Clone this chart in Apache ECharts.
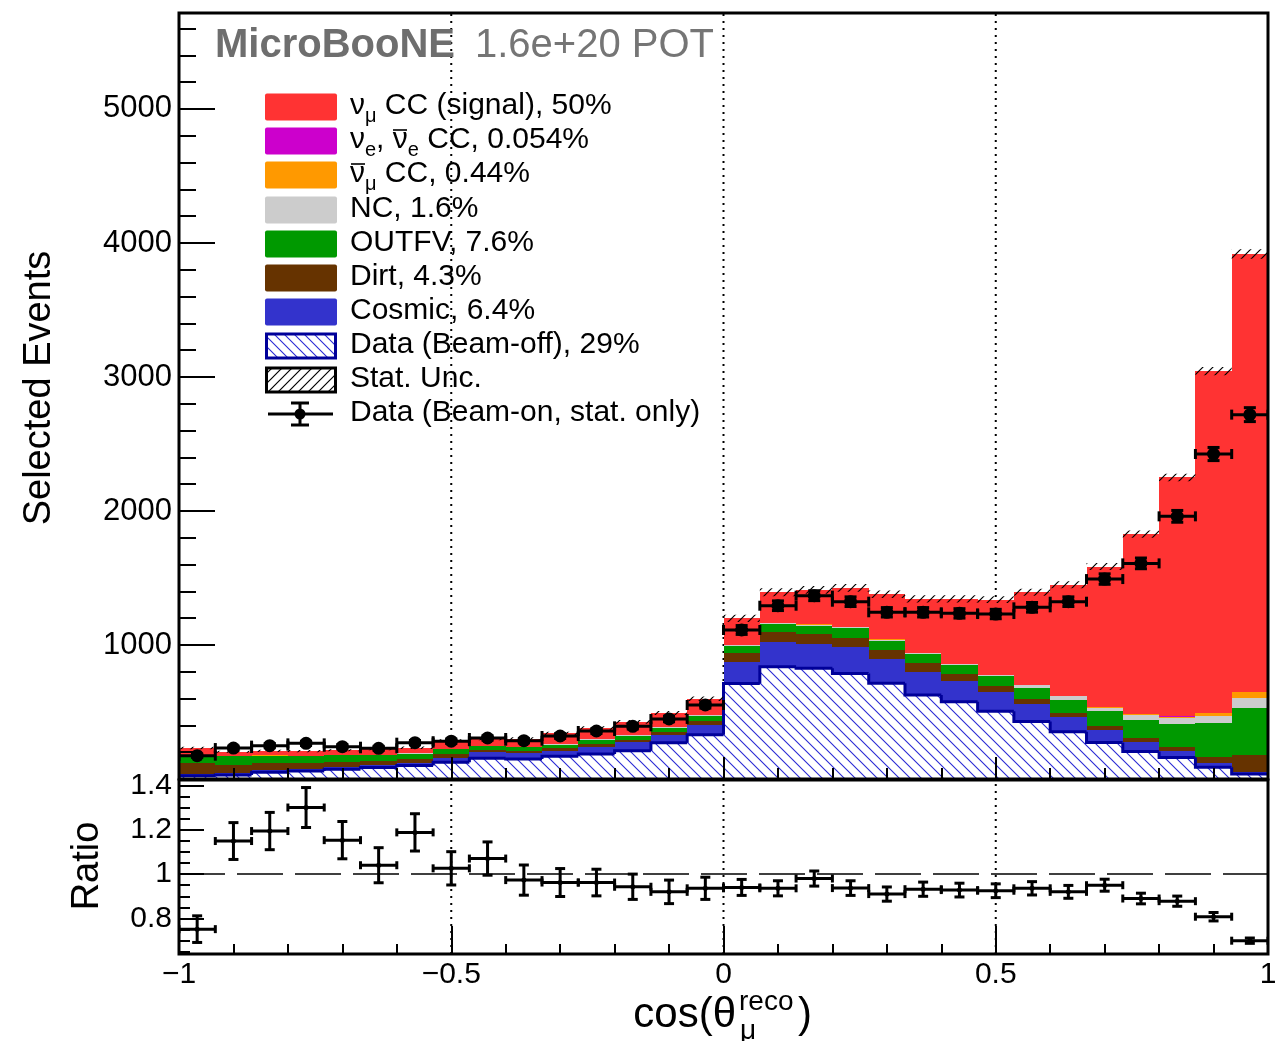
<!DOCTYPE html>
<html><head><meta charset="utf-8">
<script src="https://cdn.jsdelivr.net/npm/echarts@6/dist/echarts.min.js"></script>
<style>html,body{margin:0;padding:0;background:#fff}#c{width:1281px;height:1041px}</style>
</head><body><div id="c"></div>
<script>
// ---------------- data ----------------
const binEdges = [-1, -0.9333, -0.8667, -0.8, -0.7333, -0.6667, -0.6, -0.5333, -0.4667, -0.4, -0.3333,
  -0.2667, -0.2, -0.1333, -0.0667, 0, 0.0667, 0.1333, 0.2, 0.2667, 0.3333, 0.4, 0.4667, 0.5333,
  0.6, 0.6667, 0.7333, 0.8, 0.8667, 0.9333, 1];
const beamOff = [25,30,50,60,72,85,100,125,155,150,169,186,211,271,331, 712,838,826,788,714,627,577,505,430,353,273,206,161,87,37];
const cosmic  = [15,15,17,15,20,19,19,35,44,44,42,55,62,60,74, 158,182,181,195,181,174,157,142,129,112,95,72,45,32,18];
const dirt    = [80,62,50,44,37,33,30,28,20,17,18,20,18,22,30, 70,74,75,69,68,62,49,44,38,27,30,28,30,47,124];
const outfv   = [45,61,55,50,48,41,41,34,25,25,25,30,32,27,33, 53,63,62,72,69,70,68,75,82,100,107,137,177,249,351];
const nc      = [4,3,3,3,3,3,3,4,4,4,4,4,5,5,6, 7,9,8,8,8,7,7,9,21,25,25,35,40,53,72];
const numubar = [0.5,0.5,0.5,0.5,0.5,0.5,0.5,0.6,0.6,0.6,0.7,0.7,0.8,0.9,1, 1,1,1,1,1,1,1,2,3,4,10,7,13,25,45];
const nue     = [0.1,0.1,0.1,0.1,0.1,0.1,0.1,0.1,0.1,0.1,0.2,0.2,0.2,0.2,0.3, 0.4,0.5,0.5,0.5,0.5,0.5,0.6,0.6,0.7,0.8,1,1,1.5,2,3];
const signal  = [62,32,34,35,34,41,39,59,52,60,82,85,97,107,124, 198,226,257,292,337,402,484,561,690,827,1044,1341,1783,2549,3268];
const statErr = [9,8,8,8,8,8,9,10,11,11,12,13,14,15,17, 27,29,29,29,28,27,27,26,26,26,26,27,28,31,35];
const dataOn  = [174,231,249,266,241,229,271,282,306,286,321,358,393,448,552, 1112,1293,1368,1323,1244,1244,1236,1231,1281,1323,1492,1609,1960,2425,2719];
const dataErr = [13,15,16,16,16,15,16,17,17,17,18,19,20,21,23, 33,36,37,36,35,35,35,35,36,36,39,40,44,49,52];
const ratio    = [0.752,1.149,1.194,1.30,1.153,1.04,1.188,1.026,1.07,0.973,0.962,0.962,0.943,0.92,0.936,
                  0.94,0.936,0.98,0.937,0.91,0.932,0.928,0.925,0.936,0.92,0.95,0.89,0.878,0.808,0.70];
const ratioErr = [0.06,0.083,0.084,0.09,0.084,0.079,0.084,0.075,0.075,0.068,0.063,0.06,0.057,0.053,0.05,
                  0.036,0.034,0.034,0.033,0.032,0.032,0.031,0.031,0.030,0.029,0.027,0.024,0.023,0.019,0.012];
const ratioMajorTicks = [0.8, 1, 1.2, 1.4];
const ratioMinorTicks = [0.65,0.7,0.75,0.8,0.85,0.9,0.95,1,1.05,1.1,1.15,1.2,1.25,1.3,1.35,1.4];
const xDividers = [-0.5, 0, 0.5];
const xMin = -1, xMax = 1, yMax = 5716, rMin = 0.64, rMax = 1.424;
const legendLabels = [
  '{m|ν}{s|μ}{m| CC (signal), 50%}',
  '{m|ν}{s|e}{m|, ν}{s|e}{m| CC, 0.054%}',
  '{m|ν}{s|μ}{m| CC, 0.44%}',
  '{m|NC, 1.6%}',
  '{m|OUTFV, 7.6%}',
  '{m|Dirt, 4.3%}',
  '{m|Cosmic, 6.4%}',
  '{m|Data (Beam-off), 29%}',
  '{m|Stat. Unc.}',
  '{m|Data (Beam-on, stat. only)}'
];
// ---------------- style ----------------
const FONT = "'Liberation Sans', Arial, Helvetica, sans-serif";
const layers = [
  {vals: beamOff, color: null},
  {vals: cosmic, color: '#3333cc'},
  {vals: dirt, color: '#663300'},
  {vals: outfv, color: '#009900'},
  {vals: nc, color: '#cccccc'},
  {vals: numubar, color: '#ff9900'},
  {vals: nue, color: '#cc00cc'},
  {vals: signal, color: '#ff3333'}
];
function hatch(color, dir, s, lw, bg) {
  const c = document.createElement('canvas'); c.width = s; c.height = s;
  const g = c.getContext('2d');
  if (bg) { g.fillStyle = bg; g.fillRect(0, 0, s, s); }
  g.strokeStyle = color; g.lineWidth = lw; g.beginPath();
  if (dir === '\\') {
    g.moveTo(-1, -1); g.lineTo(s + 1, s + 1);
    g.moveTo(-1, s - 1); g.lineTo(1, s + 1);
    g.moveTo(s - 1, -1); g.lineTo(s + 1, 1);
  } else {
    g.moveTo(-1, s + 1); g.lineTo(s + 1, -1);
    g.moveTo(-1, 1); g.lineTo(1, -1);
    g.moveTo(s - 1, s + 1); g.lineTo(s + 1, s - 1);
  }
  g.stroke();
  return {image: c, repeat: 'repeat'};
}
const beamOffFill = hatch('#2a2ad4', '\\', 11, 1.1, '#ffffff');
const statFill = hatch('#000000', '/', 10, 1.2, null);
const beamOffFillLeg = hatch('#2a2ad4', '\\', 10, 1.1, '#ffffff');
const statFillLeg = hatch('#000000', '/', 10, 1.2, '#ffffff');

// ---------------- build series data ----------------
const nBins = signal.length;
const cum = new Array(nBins).fill(0);
const series = [];
function divider(xi, yi, lo, hi) {
  return {
    type: 'custom', xAxisIndex: xi, yAxisIndex: yi, z: 1, silent: true,
    data: xDividers.map(x => [x]),
    renderItem: (p, api) => {
      const a = api.coord([api.value(0), lo]), b = api.coord([api.value(0), hi]);
      return {type: 'line', shape: {x1: a[0], y1: a[1], x2: b[0], y2: b[1]},
              style: {stroke: '#000', lineWidth: 2, lineDash: [2, 5]}};
    }
  };
}
series.push(divider(0, 0, 0, yMax));
series.push(divider(1, 2, rMin, rMax));
layers.forEach((L, li) => {
  const d = [];
  for (let i = 0; i < nBins; i++) {
    d.push([binEdges[i], binEdges[i + 1], cum[i], cum[i] + L.vals[i]]);
    cum[i] += L.vals[i];
  }
  const fill = L.color || beamOffFill;
  series.push({
    type: 'custom', xAxisIndex: 0, yAxisIndex: 0, z: 2, silent: true, clip: true,
    data: d,
    renderItem: (p, api) => {
      const a = api.coord([api.value(0), api.value(3)]);
      const b = api.coord([api.value(1), api.value(2)]);
      const x0 = Math.round(a[0]), x1 = Math.round(b[0]);
      const y0 = Math.round(a[1]), y1 = Math.round(b[1]);
      if (y1 - y0 <= 0) return null;
      return {type: 'rect', shape: {x: x0, y: y0, width: x1 - x0, height: y1 - y0},
              style: {fill: fill}};
    }
  });
});
// beam-off outline (dark blue step line)
series.push({
  type: 'custom', xAxisIndex: 0, yAxisIndex: 0, z: 3, silent: true, clip: true,
  data: beamOff.map((v, i) => [binEdges[i], binEdges[i + 1], v, i > 0 ? beamOff[i - 1] : 0]),
  renderItem: (p, api) => {
    const a = api.coord([api.value(0), api.value(3)]);
    const b = api.coord([api.value(0), api.value(2)]);
    const c = api.coord([api.value(1), api.value(2)]);
    return {type: 'polyline', shape: {points: [a, b, c]},
            style: {stroke: '#000099', lineWidth: 3, fill: null}};
  }
});
// stat. uncertainty band
series.push({
  type: 'custom', xAxisIndex: 0, yAxisIndex: 0, z: 4, silent: true, clip: true,
  data: cum.map((t, i) => [binEdges[i], binEdges[i + 1], t - statErr[i], t + statErr[i]]),
  renderItem: (p, api) => {
    const a = api.coord([api.value(0), api.value(3)]);
    const b = api.coord([api.value(1), api.value(2)]);
    return {type: 'rect', shape: {x: a[0], y: a[1], width: b[0] - a[0], height: b[1] - a[1]},
            style: {fill: statFill}};
  }
});
function errItem(r, lw, capH, capV) {
  return (p, api) => {
    const lo = api.value(0), hi = api.value(1), y = api.value(2), e = api.value(3);
    const c = (lo + hi) / 2;
    const L = api.coord([lo, y]), R = api.coord([hi, y]), C = api.coord([c, y]);
    const T = api.coord([c, y + e]), B = api.coord([c, y - e]);
    const st = {stroke: '#000', lineWidth: lw};
    return {type: 'group', children: [
      {type: 'line', shape: {x1: L[0], y1: L[1], x2: R[0], y2: R[1]}, style: st},
      {type: 'line', shape: {x1: L[0], y1: L[1] - capH, x2: L[0], y2: L[1] + capH}, style: st},
      {type: 'line', shape: {x1: R[0], y1: R[1] - capH, x2: R[0], y2: R[1] + capH}, style: st},
      {type: 'line', shape: {x1: T[0], y1: T[1], x2: B[0], y2: B[1]}, style: st},
      {type: 'line', shape: {x1: T[0] - capV, y1: T[1], x2: T[0] + capV, y2: T[1]}, style: st},
      {type: 'line', shape: {x1: B[0] - capV, y1: B[1], x2: B[0] + capV, y2: B[1]}, style: st},
      {type: 'circle', shape: {cx: C[0], cy: C[1], r: r}, style: {fill: '#000'}}
    ]};
  };
}
series.push({
  type: 'custom', xAxisIndex: 0, yAxisIndex: 0, z: 6, silent: true, clip: true,
  data: dataOn.map((v, i) => [binEdges[i], binEdges[i + 1], v, dataErr[i]]),
  renderItem: errItem(6.5, 3, 5, 6)
});
// ratio panel: dashed unity line and points
series.push({
  type: 'custom', xAxisIndex: 1, yAxisIndex: 2, z: 2, silent: true,
  data: [[1]],
  renderItem: (p, api) => {
    const a = api.coord([xMin, api.value(0)]), b = api.coord([xMax, api.value(0)]);
    return {type: 'line', shape: {x1: a[0], y1: a[1], x2: b[0], y2: b[1]},
            style: {stroke: '#000', lineWidth: 1.5, lineDash: [46, 12]}};
  }
});
series.push({
  type: 'custom', xAxisIndex: 1, yAxisIndex: 2, z: 6, silent: true, clip: true,
  data: ratio.map((v, i) => [binEdges[i], binEdges[i + 1], v, ratioErr[i]]),
  renderItem: errItem(2.5, 3, 4, 5)
});

// ---------------- graphics (frames, texts, legend) ----------------
const G = [];
const rowY = [107, 141, 175, 210, 244, 278, 312, 346, 380, 414];
layers.slice().reverse().forEach((L, k) => {
  if (!L.color) return;
  G.push({type: 'rect', shape: {x: 265, y: rowY[k] - 13.5, width: 72, height: 27, r: 2},
          style: {fill: L.color}, z: 50});
});
G.push({type: 'rect', shape: {x: 266.5, y: rowY[7] - 12, width: 69, height: 24},
        style: {fill: beamOffFillLeg, stroke: '#000099', lineWidth: 3}, z: 50});
G.push({type: 'rect', shape: {x: 266.5, y: rowY[8] - 12, width: 69, height: 24},
        style: {fill: statFillLeg, stroke: '#000', lineWidth: 3}, z: 50});
const ly = rowY[9];
[[268, ly, 333, ly], [300, ly - 11, 300, ly + 11], [291, ly - 11, 309, ly - 11], [291, ly + 11, 309, ly + 11]]
  .forEach(s => G.push({type: 'line', shape: {x1: s[0], y1: s[1], x2: s[2], y2: s[3]},
                        style: {stroke: '#000', lineWidth: 3}, z: 50}));
G.push({type: 'circle', shape: {cx: 300, cy: ly, r: 5.5}, style: {fill: '#000'}, z: 50});
legendLabels.forEach((t, k) => {
  G.push({type: 'text', x: 350, y: rowY[k] - 1, z: 50,
    style: {text: t, align: 'left', verticalAlign: 'middle', fill: '#000',
      rich: {m: {fontSize: 30, lineHeight: 40, fontFamily: FONT, fill: '#000'},
             s: {fontSize: 20, lineHeight: 20, verticalAlign: 'bottom', fontFamily: FONT, fill: '#000'}}}});
});
// overlines for anti-neutrinos
G.push({type: 'line', shape: {x1: 393, y1: rowY[1] - 11, x2: 407, y2: rowY[1] - 11}, style: {stroke: '#000', lineWidth: 1.6}, z: 50});
G.push({type: 'line', shape: {x1: 351, y1: rowY[2] - 11, x2: 365, y2: rowY[2] - 11}, style: {stroke: '#000', lineWidth: 1.6}, z: 50});
// title
G.push({type: 'text', x: 215, y: 46, z: 50, style: {text: 'MicroBooNE', fontSize: 40, fontWeight: 'bold',
  fontFamily: FONT, fill: '#6e6e6e', align: 'left', verticalAlign: 'middle'}});
G.push({type: 'text', x: 475, y: 46, z: 50, style: {text: '1.6e+20 POT', fontSize: 40,
  fontFamily: FONT, fill: '#757575', align: 'left', verticalAlign: 'middle'}});
// axis titles
G.push({type: 'text', x: 40, y: 388, rotation: Math.PI / 2, z: 50, style: {text: 'Selected Events',
  fontSize: 38, fontFamily: FONT, fill: '#000', align: 'center', verticalAlign: 'middle'}});
G.push({type: 'text', x: 88, y: 866, rotation: Math.PI / 2, z: 50, style: {text: 'Ratio',
  fontSize: 38, fontFamily: FONT, fill: '#000', align: 'center', verticalAlign: 'middle'}});
G.push({type: 'text', x: 736, y: 1015, z: 50, style: {text: 'cos(θ', fontSize: 42, fontFamily: FONT,
  fill: '#000', align: 'right', verticalAlign: 'middle'}});
G.push({type: 'text', x: 739, y: 1002, z: 50, style: {text: 'reco', fontSize: 28, fontFamily: FONT,
  fill: '#000', align: 'left', verticalAlign: 'middle'}});
G.push({type: 'text', x: 740, y: 1031, z: 50, style: {text: 'μ', fontSize: 28, fontFamily: FONT,
  fill: '#000', align: 'left', verticalAlign: 'middle'}});
G.push({type: 'text', x: 798, y: 1015, z: 50, style: {text: ')', fontSize: 42, fontFamily: FONT,
  fill: '#000', align: 'left', verticalAlign: 'middle'}});
// frames
G.push({type: 'rect', shape: {x: 179, y: 13, width: 1089, height: 766}, style: {fill: null, stroke: '#000', lineWidth: 3}, z: 40});
G.push({type: 'rect', shape: {x: 179, y: 780, width: 1089, height: 174}, style: {fill: null, stroke: '#000', lineWidth: 3}, z: 40});

// ---------------- axes ----------------
const tickStyle = {color: '#000', width: 2};
const xBase = (gi, showLabel, majLen, minLen) => ({
  gridIndex: gi, type: 'value', min: xMin, max: xMax, interval: 0.5, z: 5, position: 'bottom',
  axisLine: {show: false, onZero: false},
  axisTick: {show: true, inside: true, length: majLen, lineStyle: tickStyle},
  minorTick: {show: true, splitNumber: 5, length: minLen, lineStyle: tickStyle},
  splitLine: {show: false}, minorSplitLine: {show: false},
  axisLabel: {show: showLabel, fontSize: 30, fontFamily: FONT, color: '#000', margin: 6,
    formatter: v => String(v).replace('-', '\u2212')}
});
const yBase = (gi, extra) => Object.assign({
  gridIndex: gi, type: 'value', z: 5, position: 'left',
  axisLine: {show: false, onZero: false}, splitLine: {show: false}
}, extra);
const option = {
  animation: false,
  backgroundColor: '#ffffff',
  grid: [{left: 179, top: 13, width: 1089, height: 766},
         {left: 179, top: 780, width: 1089, height: 174}],
  xAxis: [xBase(0, false, 22, 11), xBase(1, true, 28, 10)],
  yAxis: [
    yBase(0, {min: 0, max: yMax, interval: 1000,
     axisTick: {show: true, inside: true, length: 36, lineStyle: tickStyle},
     axisLabel: {fontSize: 31, fontFamily: FONT, color: '#000', margin: 7, showMinLabel: false,
       showMaxLabel: false, formatter: v => String(v)}}),
    yBase(0, {min: 0, max: yMax, interval: 200,
     axisTick: {show: true, inside: true, length: 17, lineStyle: tickStyle},
     axisLabel: {show: false}}),
    yBase(1, {min: rMin, max: rMax,
     axisTick: {show: true, inside: true, length: 25, lineStyle: tickStyle, customValues: ratioMajorTicks},
     axisLabel: {fontSize: 30, fontFamily: FONT, color: '#000', margin: 7, customValues: ratioMajorTicks,
       formatter: v => String(v)}}),
    yBase(1, {min: rMin, max: rMax,
     axisTick: {show: true, inside: true, length: 11, lineStyle: tickStyle, customValues: ratioMinorTicks},
     axisLabel: {show: false}})
  ],
  series: series,
  graphic: G
};
const chart = echarts.init(document.getElementById('c'), null, {renderer: 'canvas'});
chart.setOption(option);
</script></body></html>
